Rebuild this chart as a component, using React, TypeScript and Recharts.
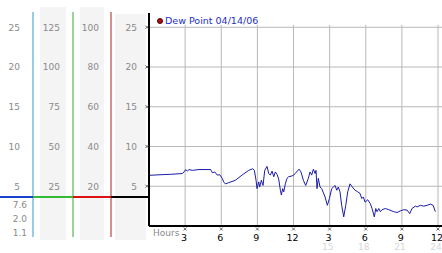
import React from 'react';
import { LineChart, Line, XAxis, YAxis, CartesianGrid, ReferenceLine, Legend } from 'recharts';

// ---- data ----
const hours = [
  0.08, 1.25, 1.8, 2.77, 2.91, 3.05, 3.18, 3.32, 3.6, 4.15, 5.12, 5.26, 5.46, 5.67, 5.87, 6.09,
  6.2, 6.34, 6.62, 7.17, 7.72, 8.28, 8.61, 8.75, 8.89, 8.97, 9.11, 9.19, 9.33, 9.47, 9.61, 9.8,
  9.94, 10.07, 10.22, 10.36, 10.49, 10.63, 10.77, 10.91, 10.99, 11.1, 11.19, 11.32, 11.46, 11.6,
  11.88, 12.02, 12.13, 12.46, 12.62, 12.82, 13.01, 13.23, 13.37, 13.51, 13.65, 13.79, 13.87, 13.95,
  14.06, 14.2, 14.34, 14.62, 14.81, 14.98, 15.17, 15.31, 15.45, 15.59, 15.72, 15.86, 16.0, 16.17,
  16.34, 16.5, 16.69, 16.89, 17.11, 17.33, 17.52, 17.67, 17.8, 17.94, 18.16, 18.38, 18.52, 18.71,
  18.83, 18.94, 19.08, 19.21, 19.35, 19.63, 19.91, 20.32, 20.6, 20.87, 21.15, 21.43, 21.65, 21.84,
  22.12, 22.26, 22.53, 22.82, 23.09, 23.36, 23.59, 23.78,
];
const dewPoint = [
  6.38, 6.47, 6.5, 6.6, 6.8, 7.1, 6.9, 7.1, 7.0, 7.1, 7.1, 6.7, 6.8, 6.4, 6.45, 5.97,
  5.55, 5.3, 5.45, 5.75, 6.4, 7.0, 7.2, 7.0, 5.75, 4.7, 5.55, 4.9, 5.75, 5.1, 7.0, 7.5,
  6.6, 6.4, 6.9, 6.2, 6.8, 6.5, 5.9, 4.5, 3.9, 4.7, 4.3, 5.3, 6.0, 6.2,
  6.3, 6.4, 6.6, 7.15, 6.8, 5.75, 5.1, 6.0, 6.8, 6.4, 7.15, 6.6, 7.0, 4.7,
  6.0, 4.9, 4.7, 3.65, 2.6, 3.45, 4.7, 4.9, 5.1, 4.5, 4.9, 4.3, 2.6, 1.15,
  2.6, 4.3, 5.3, 4.9, 4.5, 4.3, 4.1, 3.45, 3.65, 3.0, 3.3, 2.8, 2.2, 1.15,
  2.2, 1.8, 2.2, 1.8, 2.05, 2.2, 2.05, 1.8, 1.7, 1.9, 2.05, 2.0, 1.55, 2.2,
  2.5, 2.4, 2.6, 2.5, 2.6, 2.75, 2.6, 1.8,
];
const seriesName = 'Dew Point 04/14/06';
const hourTicks = [3, 6, 9, 12, 15, 18, 21, 24];
const dewTicks = [5, 10, 15, 20, 25];
const col1Ticks = [5, 10, 15, 20, 25];
const col2Ticks = [25, 50, 75, 100, 125];
const col3Ticks = [20, 40, 60, 80, 100];
const currentMarks = [3.65, 18.25, 14.6, 3.65];
const readouts = ['7.6', '2.0', '1.1'];

const data = hours.map((h, i) => ({ h, v: dewPoint[i] }));

// ---- styling ----
const FONT = '"DejaVu Sans", Verdana, sans-serif';
const GREY = '#8a8a8a';
const GRID = '#b8b8b8';
const LO = -11 / 7.95;
const HI = 214 / 7.95;
const TOP_B = 213 / 7.95;

function Mark({ x, y }: { x: number; y: number }) {
  return (
    <path
      d={`M${x - 1.5},${y - 1.5}L${x + 1.5},${y + 1.5}M${x + 1.5},${y - 1.5}L${x - 1.5},${y + 1.5}`}
      stroke="#444"
      strokeWidth={0.8}
      fill="none"
    />
  );
}

function ColTick(props: any) {
  const { x, y, payload, col } = props;
  const v = payload.value;
  if (v === col.mark) {
    const right = x + col.margin;
    return (
      <g>
        <line x1={right - col.width} x2={right} y1={y} y2={y} stroke={col.markColor} strokeWidth={2.2} />
        {col.readouts &&
          col.readouts.map((r: string, i: number) => (
            <text key={i} x={x + 7} y={y + 11.3 + 14 * i} textAnchor="end" fontSize={9} fill={GREY} fontFamily={FONT}>
              {r}
            </text>
          ))}
      </g>
    );
  }
  return (
    <g>
      <text x={x} y={y + 3.3} textAnchor="end" fontSize={9} fill={GREY} fontFamily={FONT}>
        {v}
      </text>
      {col.glyph && <Mark x={x + 10} y={y} />}
    </g>
  );
}

function HourTick(props: any) {
  const { x, y, payload } = props;
  const v = payload.value;
  const clock = v % 12 === 0 ? 12 : v % 12;
  return (
    <g>
      <Mark x={x} y={y + 3} />
      <text x={x - 1} y={y + 15} textAnchor="middle" fontSize={9.5} fill="#000" fontFamily={FONT}>
        {clock}
      </text>
      {v > 12 && (
        <text x={x - 2} y={y + 24} textAnchor="middle" fontSize={9} fill="#d6d6d6" fontFamily={FONT}>
          {v}
        </text>
      )}
    </g>
  );
}

function HoursLabel(props: any) {
  const vb = props.viewBox || { x: 149, y: 226 };
  return (
    <text x={vb.x + 4} y={vb.y + 9.5} fontSize={9} fill={GREY} fontFamily={FONT}>
      Hours
    </text>
  );
}

const renderLegend = (props: any) => {
  const item = (props.payload && props.payload[0]) || { value: seriesName };
  return (
    <div style={{ display: 'flex', alignItems: 'center', fontFamily: FONT, fontSize: 9.5, color: '#1f2fbf', lineHeight: '12px', whiteSpace: 'nowrap' }}>
      <span style={{ display: 'inline-block', width: 6, height: 6, borderRadius: '50%', background: '#a81010', border: '1px solid #5a0000', boxSizing: 'border-box', marginRight: 2 }} />
      <span>{item.value}</span>
    </div>
  );
};

const col1 = { width: 33, margin: 13, mark: currentMarks[0], markColor: '#1a40d0', readouts };
const col2 = { width: 40, margin: 13, mark: currentMarks[1], markColor: '#33bb33' };
const col3 = { width: 38, margin: 12, mark: currentMarks[2], markColor: '#dd1111' };
const col4 = { width: 38, margin: 12, mark: currentMarks[3], markColor: '#000', glyph: true };

export default function App() {
  return (
    <div style={{ position: 'absolute', left: 0, top: 0, width: 442, height: 253, background: '#fff', overflow: 'hidden' }}>
      <div style={{ position: 'absolute', left: 40, top: 7, width: 26, height: 233, background: '#f4f4f4' }} />
      <div style={{ position: 'absolute', left: 80, top: 7, width: 24, height: 233, background: '#f4f4f4' }} />
      <div style={{ position: 'absolute', left: 115, top: 14, width: 31, height: 226, background: '#f4f4f4' }} />
      <div style={{ position: 'absolute', left: 0, top: 0 }}>
        <LineChart width={442} height={253} data={data} margin={{ top: 12, right: 0, bottom: 16, left: 0 }}>
          <XAxis dataKey="h" type="number" domain={[0, 24]} hide />
          <YAxis yAxisId="left3" type="number" width={33} domain={[LO, HI]} allowDataOverflow ticks={[...col1Ticks, currentMarks[0]]} interval={0} tickSize={0} tickMargin={col1.margin} tickLine={false} axisLine={{ stroke: '#3399cc' }} tick={<ColTick col={col1} />} />
          <YAxis yAxisId="left2" type="number" width={40} domain={[LO * 5, HI * 5]} allowDataOverflow ticks={[...col2Ticks, currentMarks[1]]} interval={0} tickSize={0} tickMargin={col2.margin} tickLine={false} axisLine={{ stroke: '#33aa33' }} tick={<ColTick col={col2} />} />
          <YAxis yAxisId="left1" type="number" width={38} domain={[LO * 4, HI * 4]} allowDataOverflow ticks={[...col3Ticks, currentMarks[2]]} interval={0} tickSize={0} tickMargin={col3.margin} tickLine={false} axisLine={{ stroke: '#aa2222' }} tick={<ColTick col={col3} />} />
        </LineChart>
      </div>
      <div style={{ position: 'absolute', left: 0, top: 0 }}>
        <LineChart width={442} height={253} data={data} margin={{ top: 13, right: 0, bottom: 0, left: 111 }}>
          <CartesianGrid vertical={false} stroke={GRID} horizontalValues={dewTicks} />
          {hourTicks.map((h) => (
            <ReferenceLine key={h} segment={[{ x: h, y: 0 }, { x: h, y: 25.28 }]} stroke={GRID} ifOverflow="visible" />
          ))}
          <XAxis dataKey="h" type="number" domain={[0, 24.33]} allowDataOverflow ticks={hourTicks} interval={0} height={27} tickSize={0} tickMargin={0} tickLine={false} axisLine={{ stroke: '#000', strokeWidth: 2 }} tick={<HourTick />} label={<HoursLabel />} />
          <YAxis type="number" width={38} domain={[0, TOP_B]} allowDataOverflow ticks={[...dewTicks, currentMarks[3]]} interval={0} tickSize={0} tickMargin={col4.margin} tickLine={false} axisLine={{ stroke: '#000', strokeWidth: 2 }} tick={<ColTick col={col4} />} />
          <Legend layout="vertical" align="center" verticalAlign="middle" wrapperStyle={{ top: 15, left: 157, width: 'auto' }} content={renderLegend} />
          <Line type="linear" dataKey="v" name={seriesName} stroke="#1c1ca8" strokeWidth={1} dot={false} isAnimationActive={false} />
        </LineChart>
      </div>
    </div>
  );
}
